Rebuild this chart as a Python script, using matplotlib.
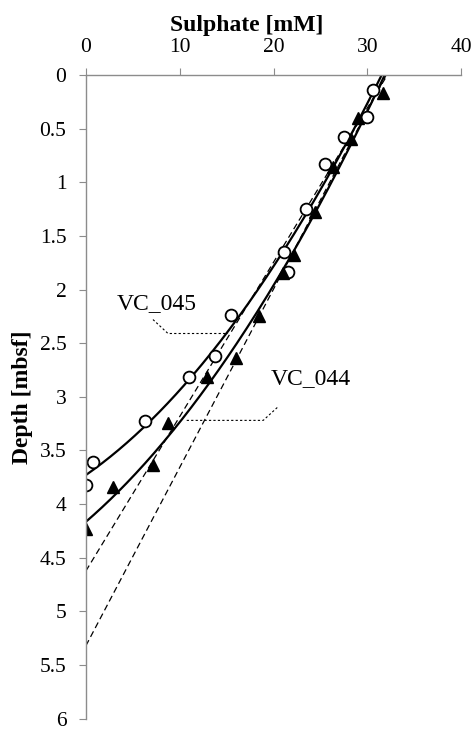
import numpy as np
import matplotlib
matplotlib.use('Agg')
import matplotlib.pyplot as plt
from matplotlib.ticker import FuncFormatter

plt.rcParams['font.family'] = ['Liberation Serif', 'DejaVu Serif']

# sulphate [mM] vs depth [mbsf]
so4_045 = [30.6, 30.0, 27.5, 25.5, 23.5, 21.1, 21.5, 15.5, 13.8, 11.0, 6.3, 0.75, 0.0]
depth_045 = [0.14, 0.39, 0.58, 0.83, 1.25, 1.65, 1.84, 2.24, 2.62, 2.82, 3.23, 3.61, 3.82]

so4_044 = [31.7, 29.0, 28.3, 26.3, 24.4, 22.2, 21.0, 18.5, 16.0, 12.9, 8.75, 7.15, 2.9, 0.0]
depth_044 = [0.17, 0.40, 0.60, 0.86, 1.28, 1.68, 1.85, 2.25, 2.64, 2.82, 3.24, 3.64, 3.84, 4.23]

# how many upper points go into the linear (dashed) trends
n_lin_045 = 9
n_lin_044 = 7

# label positions and leader lines (data units)
lab_045 = (7.6, 2.13)
lab_044 = (24.0, 2.83)
lead_045_x = [7.15, 8.75, 15.15]
lead_045_y = [2.28, 2.41, 2.41]
lead_044_x = [20.4, 18.9, 10.6]
lead_044_y = [3.10, 3.22, 3.22]

fig = plt.figure(figsize=(4.72, 7.31), dpi=100)
ax = fig.add_axes([0.182, 0.017, 0.795, 0.8804])

xs = np.linspace(0, 32.5, 300)

# polynomial trendlines (order 2)
p45 = np.polyfit(so4_045, depth_045, 2)
p44 = np.polyfit(so4_044, depth_044, 2)
ax.plot(xs, np.polyval(p45, xs), color='black', lw=1.6)
ax.plot(xs, np.polyval(p44, xs), color='black', lw=1.6)

# linear trendlines through the upper part
l45 = np.polyfit(so4_045[:n_lin_045], depth_045[:n_lin_045], 1)
l44 = np.polyfit(so4_044[:n_lin_044], depth_044[:n_lin_044], 1)
ax.plot(xs, np.polyval(l45, xs), color='black', lw=0.9, ls=(0, (5, 3)))
ax.plot(xs, np.polyval(l44, xs), color='black', lw=0.9, ls=(0, (5, 3)))

# data points
ax.plot(so4_045, depth_045, 'o', ms=8.5, mfc='white', mec='black', mew=1.3)
ax.plot(so4_044, depth_044, '^', ms=9, mfc='black', mec='black')

# labels with leader lines
ax.text(lab_045[0], lab_045[1], 'VC_045', fontsize=17, ha='center', va='center')
ax.text(lab_044[0], lab_044[1], 'VC_044', fontsize=17, ha='center', va='center')
ax.plot(lead_045_x, lead_045_y, color='black', lw=0.8, ls=(0, (2, 2)))
ax.plot(lead_044_x, lead_044_y, color='black', lw=0.8, ls=(0, (2, 2)))

ax.set_xlim(0, 40)
ax.set_ylim(6, 0)
ax.set_xticks([0, 10, 20, 30, 40])
ax.set_yticks(np.arange(0, 6.01, 0.5))
ax.yaxis.set_major_formatter(FuncFormatter(lambda v, p: '%g' % v))

ax.xaxis.tick_top()
ax.xaxis.set_label_position('top')
ax.set_xlabel('Sulphate [mM]', fontsize=17, fontweight='bold')
ax.set_ylabel('Depth [mbsf]', fontsize=17, fontweight='bold')
ax.xaxis.set_label_coords(0.429, 1.068)
ax.yaxis.set_label_coords(-0.141, 0.5)

for s in ['right', 'bottom']:
    ax.spines[s].set_visible(False)
for s in ['left', 'top']:
    ax.spines[s].set_color('#8c8c8c')
    ax.spines[s].set_linewidth(1.0)
ax.tick_params(direction='out', length=5, color='#8c8c8c', labelsize=15.5)
ax.tick_params(axis='x', pad=8)
ax.tick_params(axis='y', pad=9)

plt.savefig('out.png', dpi=100)
